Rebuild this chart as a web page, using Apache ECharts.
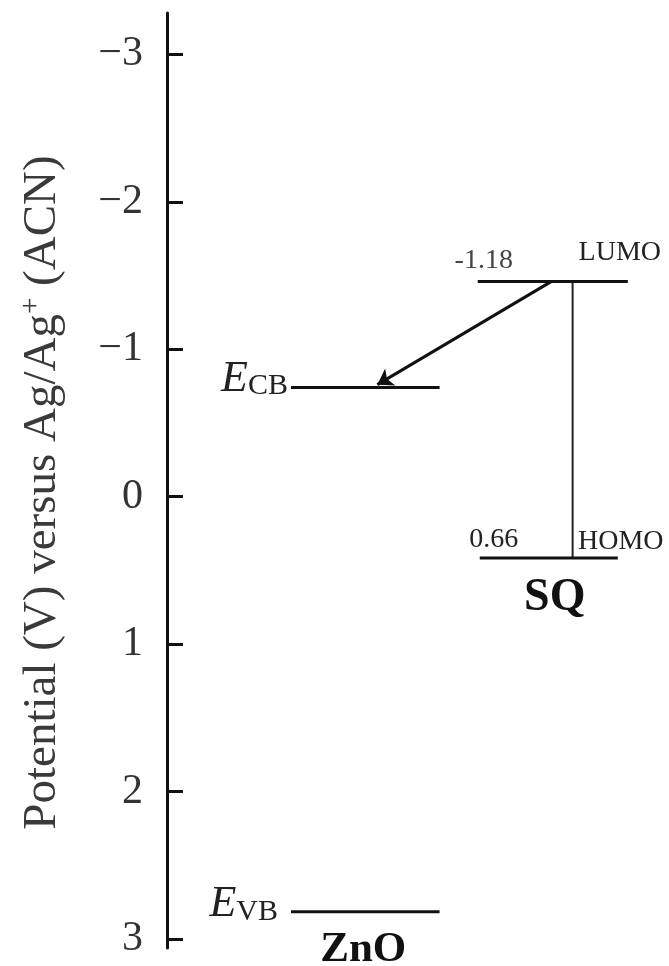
<!DOCTYPE html>
<html>
<head>
<meta charset="utf-8">
<script src="https://cdn.jsdelivr.net/npm/echarts@6/dist/echarts.min.js"></script>
<style>
  html, body { margin: 0; padding: 0; background: #fff; }
  #chart { width: 669px; height: 966px; }
</style>
</head>
<body>
<div id="chart"></div>
<script>
// potential axis (V vs Ag/Ag+), drawn downward
var yTicks = [-3, -2, -1, 0, 1, 2, 3];

// energy levels: ZnO conduction / valence band, SQ LUMO / HOMO
var levelNames = ['ECB', 'EVB', 'LUMO', 'HOMO'];
var levelPotentials = [-0.74, 2.815, -1.46, 0.415];
var levelFrom = [2.47, 2.47, 6.19, 6.23];
var levelTo = [5.43, 5.43, 9.18, 8.98];
var levelValueTags = ['', '', '-1.18', '0.66'];

// electron injection arrow, LUMO -> ZnO CB
var transferFrom = [7.66, -1.46];
var transferTo = [4.19, -0.76];
var gapX = 8.08;

var SERIF = '"Liberation Serif", "Times New Roman", serif';

init();

function init() {
    var chart = echarts.init(document.getElementById('chart'));

    var levelData = levelNames.map(function (n, i) {
        return [levelFrom[i], levelTo[i], levelPotentials[i], i];
    });

    var option = {
        backgroundColor: '#fff',
        animation: false,
        grid: { left: 167, right: 0, top: 13, bottom: 18, outerBoundsMode: 'none' },
        xAxis: { type: 'value', min: 0, max: 10, show: false },
        yAxis: {
            type: 'value',
            inverse: true,
            min: -3.28,
            max: 3.06,
            name: 'Potential (V) versus Ag/Ag{sup|+} (ACN)',
            nameLocation: 'middle',
            nameGap: 98,
            nameTextStyle: {
                fontFamily: SERIF,
                fontSize: 47,
                color: '#3a3a3a',
                padding: [0, 24, 0, 0],
                rich: {
                    sup: { fontFamily: SERIF, fontSize: 29, color: '#3a3a3a', verticalAlign: 'top', padding: [0, 0, 23, 0] }
                }
            },
            axisLine: { show: true, lineStyle: { color: '#111', width: 3 } },
            axisTick: { show: true, inside: true, length: 16, lineStyle: { color: '#111', width: 3 }, customValues: yTicks },
            axisLabel: {
                customValues: yTicks,
                margin: 24,
                fontFamily: SERIF,
                fontSize: 42,
                color: '#333',
                formatter: function (v) { return v < 0 ? '\u2212' + Math.abs(v) : String(v); }
            },
            splitLine: { show: false }
        },
        series: [
            {
                type: 'custom',
                data: levelData,
                renderItem: renderLevel,
                z: 3
            },
            {
                type: 'line',
                data: [[gapX, levelPotentials[2]], [gapX, levelPotentials[3]]],
                symbol: 'none',
                lineStyle: { color: '#222', width: 2 },
                z: 2
            },
            {
                type: 'lines',
                coordinateSystem: 'cartesian2d',
                data: [{ coords: [transferFrom, transferTo] }],
                symbol: ['none', 'arrow'],
                symbolSize: 15,
                lineStyle: { color: '#111', width: 3, opacity: 1 },
                z: 4
            }
        ]
    };

    chart.setOption(option);
}

function txt(text, x, y, extra) {
    var style = {
        text: text, x: x, y: y,
        fill: '#222',
        fontFamily: SERIF,
        fontSize: 28,
        align: 'center',
        verticalAlign: 'middle'
    };
    for (var k in extra) style[k] = extra[k];
    return { type: 'text', style: style };
}

function renderLevel(params, api) {
    var i = api.value(3);
    var p1 = api.coord([api.value(0), api.value(2)]);
    var p2 = api.coord([api.value(1), api.value(2)]);
    var mid = (p1[0] + p2[0]) / 2;
    var y = p1[1];
    var children = [{
        type: 'line',
        shape: { x1: p1[0], y1: y, x2: p2[0], y2: y },
        style: { stroke: '#111', lineWidth: 3 }
    }];

    var bandRich = {
        e: { fontFamily: SERIF, fontSize: 44, fontStyle: 'italic', fill: '#222', verticalAlign: 'bottom' },
        s: { fontFamily: SERIF, fontSize: 30, fill: '#222', verticalAlign: 'bottom' }
    };

    if (i === 0) {
        children.push(txt('{e|E}{s|CB}', p1[0] - 3, y - 8, { align: 'right', rich: bandRich }));
    } else if (i === 1) {
        children.push(txt('{e|E}{s|VB}', p1[0] - 13, y - 7, { align: 'right', rich: bandRich }));
        children.push(txt('ZnO', mid - 2, y + 38, { fontSize: 43, fontWeight: 'bold', fill: '#111' }));
    } else if (i === 2) {
        children.push(txt(levelValueTags[i], p1[0] + 6, y - 21, { fill: '#444' }));
        children.push(txt(levelNames[i], p2[0] - 8, y - 29));
    } else {
        children.push(txt(levelValueTags[i], p1[0] + 14, y - 18, { fill: '#222' }));
        children.push(txt(levelNames[i], p2[0] + 3, y - 16));
        children.push(txt('SQ', mid + 6, y + 40, { fontSize: 46, fontWeight: 'bold', fill: '#111' }));
    }

    return { type: 'group', children: children };
}
</script>
</body>
</html>
